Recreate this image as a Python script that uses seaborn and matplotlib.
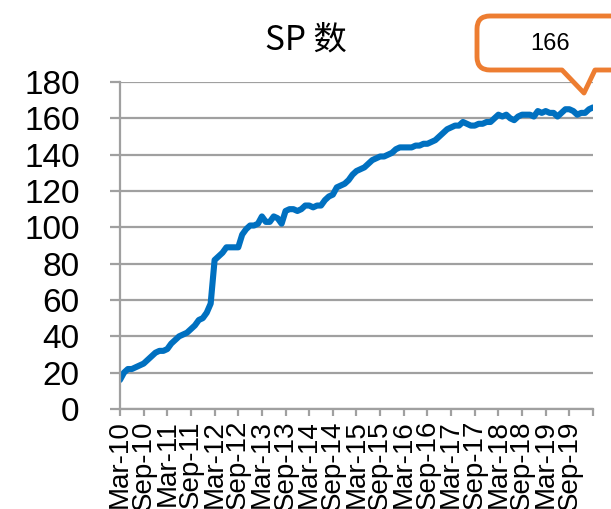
import matplotlib
matplotlib.use('Agg')
import matplotlib.pyplot as plt
from matplotlib.path import Path
import matplotlib.patches as mpatches
import seaborn as sns
import numpy as np
import pandas as pd

# monthly SP count, Mar-10 .. Mar-20
sp_count = [16, 20, 22, 22, 23, 24, 25, 27, 29, 31,
            32, 32, 33, 36, 38, 40, 41, 42, 44, 46,
            49, 50, 53, 58, 82, 84, 86, 89, 89, 89,
            89, 96, 99, 101, 101, 102, 106, 103, 103, 106,
            105, 102, 109, 110, 110, 109, 110, 112, 112, 111,
            112, 112, 115, 117, 118, 122, 123, 124, 126, 129,
            131, 132, 133, 135, 137, 138, 139, 139, 140, 141,
            143, 144, 144, 144, 144, 145, 145, 146, 146, 147,
            148, 150, 152, 154, 155, 156, 156, 158, 157, 156,
            156, 157, 157, 158, 158, 160, 162, 161, 162, 160,
            159, 161, 162, 162, 162, 161, 164, 163, 164, 163,
            163, 161, 163, 165, 165, 164, 162, 163, 163, 165,
            166]
tick_labels = ['Mar-10', 'Sep-10', 'Mar-11', 'Sep-11', 'Mar-12', 'Sep-12',
               'Mar-13', 'Sep-13', 'Mar-14', 'Sep-14', 'Mar-15', 'Sep-15',
               'Mar-16', 'Sep-16', 'Mar-17', 'Sep-17', 'Mar-18', 'Sep-18',
               'Mar-19', 'Sep-19']
y_ticks = [0, 20, 40, 60, 80, 100, 120, 140, 160, 180]

df = pd.DataFrame({'month': np.arange(len(sp_count)), 'count': sp_count})

sns.set_style('white')
plt.rcParams['font.family'] = ['Liberation Sans', 'DejaVu Sans']
plt.rcParams['text.color'] = 'black'
plt.rcParams['xtick.labelcolor'] = 'black'
plt.rcParams['ytick.labelcolor'] = 'black'

W, H = 611, 509
fig = plt.figure(figsize=(W / 100, H / 100), dpi=100)
ax = fig.add_axes([120 / W, 1 - 409 / H, (593 - 120) / W, (409 - 82) / H])

grid_col = '#a0a0a0'
ax.yaxis.grid(True, color=grid_col, linewidth=1.6)
ax.set_axisbelow(True)

sns.lineplot(data=df, x='month', y='count', ax=ax, color='#0070c0', linewidth=4.4)

ax.set_xlim(0, len(sp_count) - 1)
ax.set_ylim(y_ticks[0], y_ticks[-1])
ax.set_yticks(y_ticks)
ax.set_yticklabels([str(v) for v in y_ticks], fontsize=24, color='black')
ax.set_xticks(np.arange(0, len(sp_count), 6))
ax.set_xticklabels(tick_labels + [''], rotation=90, fontsize=20, va='top', ha='center',
                   color='black')
ax.set_xlabel('')
ax.set_ylabel('')

for s in ['top', 'right']:
    ax.spines[s].set_visible(False)
for s in ['left', 'bottom']:
    ax.spines[s].set_color(grid_col)
    ax.spines[s].set_linewidth(1.6)
ax.tick_params(axis='y', length=7, width=1.6, color=grid_col, pad=22, direction='out', left=True)
ax.tick_params(axis='x', length=5, width=1.6, color=grid_col, pad=3, direction='out', bottom=True)

fig.text(0.5, 1 - 40 / H, 'SP 数', ha='center', va='center', fontsize=24, color='black',
         family=['Noto Sans CJK SC', 'DejaVu Sans'])

# callout box with pointer
def px(x, y):
    return (x / W, 1 - y / H)

verts = [px(562, 70), px(584, 93), px(595, 70), px(660, 70), px(660, 16),
         px(490, 16), px(477, 16), px(477, 29), px(477, 57), px(477, 70),
         px(490, 70), px(562, 70)]
codes = [Path.MOVETO, Path.LINETO, Path.LINETO, Path.LINETO, Path.LINETO,
         Path.LINETO, Path.CURVE3, Path.CURVE3, Path.LINETO, Path.CURVE3,
         Path.CURVE3, Path.CLOSEPOLY]
callout = mpatches.PathPatch(Path(verts, codes), transform=fig.transFigure,
                             facecolor='white', edgecolor='#ed7d31', linewidth=3.5,
                             joinstyle='round', clip_on=False)
fig.patches.append(callout)
cx, cy = px(550, 44)
fig.text(cx, cy, str(sp_count[-1]), ha='center', va='center', fontsize=17, color='black')

fig.savefig('out.png', dpi=100)
